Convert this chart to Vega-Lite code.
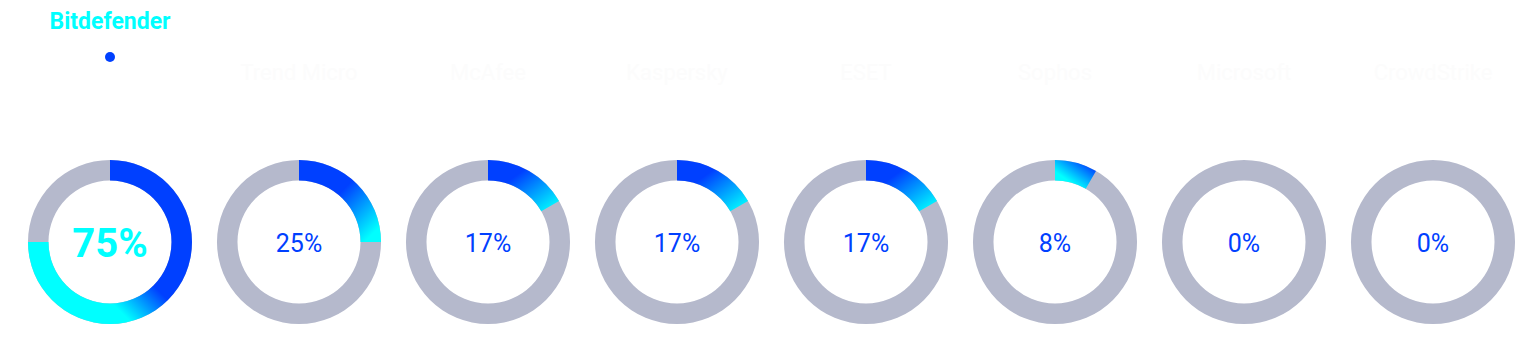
{
  "$schema": "https://vega.github.io/schema/vega-lite/v6.json",
  "width": 1536,
  "height": 353,
  "padding": 0,
  "autosize": {"type": "none"},
  "background": "white",
  "config": {"view": {"stroke": null}, "font": "Roboto"},
  "data": {
    "values": [
      {"brand": "Bitdefender", "pct": 0.75, "status": "selected"},
      {"brand": "Trend Micro", "pct": 0.25, "status": "other"},
      {"brand": "McAfee", "pct": 0.1667, "status": "other"},
      {"brand": "Kaspersky", "pct": 0.1667, "status": "other"},
      {"brand": "ESET", "pct": 0.1667, "status": "other"},
      {"brand": "Sophos", "pct": 0.0833, "status": "other"},
      {"brand": "Microsoft", "pct": 0, "status": "other"},
      {"brand": "CrowdStrike", "pct": 0, "status": "other"}
    ]
  },
  "encoding": {
    "x": {
      "field": "brand",
      "type": "nominal",
      "scale": {
        "type": "point",
        "domain": ["Bitdefender", "Trend Micro", "McAfee", "Kaspersky", "ESET", "Sophos", "Microsoft", "CrowdStrike"],
        "range": [110, 1433],
        "padding": 0
      },
      "axis": null
    }
  },
  "layer": [
    {
      "mark": {"type": "arc", "innerRadius": 61.5, "outerRadius": 82, "theta": 0, "theta2": 6.2832, "color": "#b5b9cc"},
      "encoding": {
        "y": {"datum": "chart", "type": "nominal", "scale": {"type": "point", "domain": ["header", "chart"], "range": [22, 242], "padding": 0}, "axis": null}
      }
    },
    {
      "transform": [{"filter": "datum.pct >= 0.5"}],
      "mark": {"type": "arc", "innerRadius": 61.5, "outerRadius": 82,
        "color": {"gradient": "linear", "x1": 1, "y1": 0, "x2": 0, "y2": 1,
          "stops": [{"offset": 0, "color": "#0040ff"}, {"offset": 0.5, "color": "#0040ff"}, {"offset": 0.68, "color": "#00ffff"}, {"offset": 1, "color": "#00ffff"}]}},
      "encoding": {
        "y": {"datum": "chart", "type": "nominal", "scale": {"type": "point", "domain": ["header", "chart"], "range": [22, 242], "padding": 0}, "axis": null},
        "theta": {"field": "pct", "type": "quantitative", "stack": null, "scale": {"domain": [0, 1], "range": [0, 6.283185307179586]}},
        "theta2": {"datum": 0}
      }
    },
    {
      "transform": [{"filter": "datum.pct >= 0.2 && datum.pct < 0.5"}],
      "mark": {"type": "arc", "innerRadius": 61.5, "outerRadius": 82,
        "color": {"gradient": "linear", "x1": 0, "y1": 0, "x2": 1, "y2": 1,
          "stops": [{"offset": 0, "color": "#0040ff"}, {"offset": 0.45, "color": "#0040ff"}, {"offset": 0.9, "color": "#00ffff"}, {"offset": 1, "color": "#00ffff"}]}},
      "encoding": {
        "y": {"datum": "chart", "type": "nominal", "scale": {"type": "point", "domain": ["header", "chart"], "range": [22, 242], "padding": 0}, "axis": null},
        "theta": {"field": "pct", "type": "quantitative", "stack": null, "scale": {"domain": [0, 1], "range": [0, 6.283185307179586]}},
        "theta2": {"datum": 0}
      }
    },
    {
      "transform": [{"filter": "datum.pct >= 0.12 && datum.pct < 0.2"}],
      "mark": {"type": "arc", "innerRadius": 61.5, "outerRadius": 82,
        "color": {"gradient": "linear", "x1": 0, "y1": 0, "x2": 1, "y2": 1,
          "stops": [{"offset": 0, "color": "#0040ff"}, {"offset": 0.35, "color": "#0040ff"}, {"offset": 0.95, "color": "#00ffff"}, {"offset": 1, "color": "#00ffff"}]}},
      "encoding": {
        "y": {"datum": "chart", "type": "nominal", "scale": {"type": "point", "domain": ["header", "chart"], "range": [22, 242], "padding": 0}, "axis": null},
        "theta": {"field": "pct", "type": "quantitative", "stack": null, "scale": {"domain": [0, 1], "range": [0, 6.283185307179586]}},
        "theta2": {"datum": 0}
      }
    },
    {
      "transform": [{"filter": "datum.pct > 0 && datum.pct < 0.12"}],
      "mark": {"type": "arc", "innerRadius": 61.5, "outerRadius": 82,
        "color": {"gradient": "linear", "x1": 0, "y1": 1, "x2": 1, "y2": 0,
          "stops": [{"offset": 0, "color": "#00ffff"}, {"offset": 0.3, "color": "#00ffff"}, {"offset": 0.85, "color": "#0040ff"}, {"offset": 1, "color": "#0040ff"}]}},
      "encoding": {
        "y": {"datum": "chart", "type": "nominal", "scale": {"type": "point", "domain": ["header", "chart"], "range": [22, 242], "padding": 0}, "axis": null},
        "theta": {"field": "pct", "type": "quantitative", "stack": null, "scale": {"domain": [0, 1], "range": [0, 6.283185307179586]}},
        "theta2": {"datum": 0}
      }
    },
    {
      "transform": [{"filter": "datum.status != 'selected'"}],
      "mark": {"type": "text", "fontSize": 25, "color": "#0040ff", "align": "center", "baseline": "middle", "dy": 2},
      "encoding": {
        "y": {"datum": "chart", "type": "nominal", "scale": {"type": "point", "domain": ["header", "chart"], "range": [22, 242], "padding": 0}, "axis": null},
        "text": {"field": "pct", "type": "quantitative", "format": ".0%"}
      }
    },
    {
      "transform": [{"filter": "datum.status == 'selected'"}],
      "mark": {"type": "text", "fontSize": 40, "fontWeight": "bold", "color": "#00ffff", "align": "center", "baseline": "middle", "dy": 3},
      "encoding": {
        "y": {"datum": "chart", "type": "nominal", "scale": {"type": "point", "domain": ["header", "chart"], "range": [22, 242], "padding": 0}, "axis": null},
        "text": {"field": "pct", "type": "quantitative", "format": ".0%"}
      }
    },
    {
      "transform": [{"filter": "datum.status == 'selected'"}],
      "mark": {"type": "text", "fontSize": 23, "fontWeight": "bold", "color": "#00ffff", "align": "center", "baseline": "middle"},
      "encoding": {
        "y": {"datum": "header", "type": "nominal", "scale": {"type": "point", "domain": ["header", "chart"], "range": [22, 242], "padding": 0}, "axis": null},
        "text": {"field": "brand", "type": "nominal"}
      }
    },
    {
      "transform": [{"filter": "datum.status != 'selected'"}],
      "mark": {"type": "text", "fontSize": 22, "color": "#fcfcfc", "align": "center", "baseline": "middle", "dy": 51},
      "encoding": {
        "y": {"datum": "header", "type": "nominal", "scale": {"type": "point", "domain": ["header", "chart"], "range": [22, 242], "padding": 0}, "axis": null},
        "text": {"field": "brand", "type": "nominal"}
      }
    },
    {
      "transform": [{"filter": "datum.status == 'selected'"}],
      "mark": {"type": "point", "filled": true, "opacity": 1, "size": 100, "color": "#0040ff", "yOffset": 35},
      "encoding": {
        "y": {"datum": "header", "type": "nominal", "scale": {"type": "point", "domain": ["header", "chart"], "range": [22, 242], "padding": 0}, "axis": null}
      }
    }
  ]
}
